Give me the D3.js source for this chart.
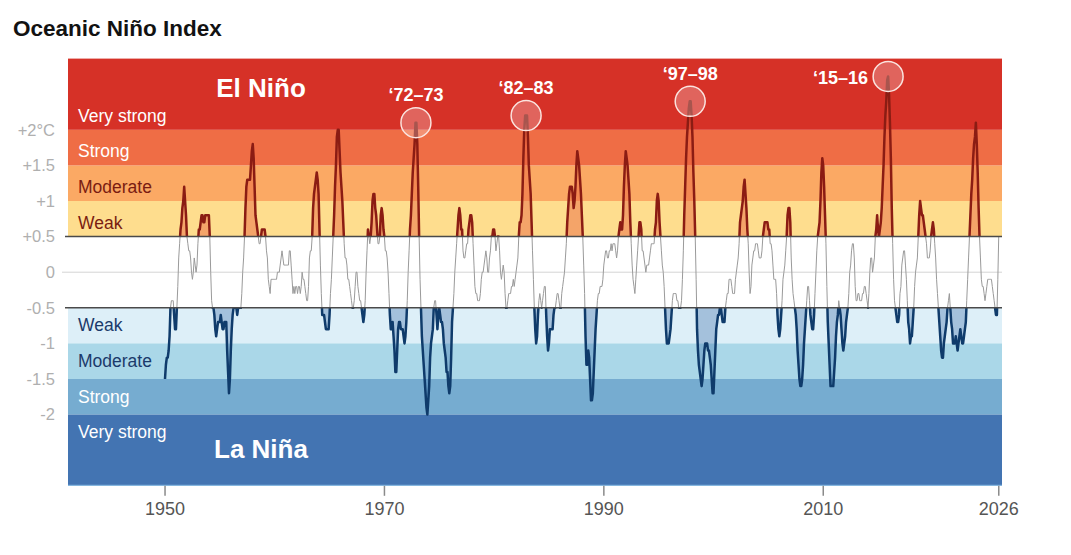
<!DOCTYPE html>
<html>
  <head>
    <title>Oceanic Niño Index | D3</title>
    <style>
        body {
            margin: 0;
            background: #fff;
            font-family: "Liberation Sans", Arial, Helvetica, sans-serif;
        }
    </style>
    <script src="https://d3js.org/d3.v7.min.js" charset="utf-8"></script>
  </head>
  <body>
    <script>
    // ONI values, one row per year, 12 overlapping 3-month seasons (DJF ... NDJ)
    var startYear = 1950;
    var oni = [
      -1.5,-1.3,-1.2,-1.2,-1.1,-0.9,-0.5,-0.4,-0.4,-0.4,-0.6,-0.8, // 1950
      -0.8,-0.5,-0.2,0.2,0.4,0.6,0.7,0.9,1.0,1.2,1.0,0.8,
      0.5,0.4,0.3,0.3,0.2,0.0,-0.1,0.0,0.2,0.1,0.0,0.1,
      0.4,0.6,0.6,0.7,0.8,0.8,0.7,0.7,0.8,0.8,0.8,0.8,
      0.8,0.5,0.0,-0.4,-0.5,-0.5,-0.6,-0.8,-0.9,-0.8,-0.7,-0.7,
      -0.7,-0.6,-0.7,-0.8,-0.8,-0.7,-0.7,-0.7,-1.1,-1.4,-1.7,-1.5,
      -1.1,-0.8,-0.6,-0.5,-0.5,-0.5,-0.5,-0.6,-0.5,-0.5,-0.5,-0.5,
      -0.3,0.0,0.2,0.5,0.9,1.2,1.3,1.3,1.3,1.3,1.5,1.7,
      1.8,1.6,1.2,0.8,0.7,0.6,0.5,0.4,0.4,0.5,0.6,0.6,
      0.6,0.6,0.5,0.3,0.2,-0.1,-0.2,-0.3,-0.1,-0.1,-0.1,-0.1,
      -0.1,-0.1,-0.1,0.0,0.0,0.0,0.1,0.2,0.3,0.2,0.1,0.1, // 1960
      0.1,0.1,0.1,0.1,0.3,0.3,0.1,-0.1,-0.3,-0.2,-0.3,-0.2,
      -0.2,-0.3,-0.2,-0.2,-0.3,-0.2,0.0,-0.1,-0.1,-0.2,-0.3,-0.4,
      -0.4,-0.2,0.2,0.3,0.3,0.5,0.9,1.1,1.2,1.3,1.4,1.3,
      1.1,0.6,0.1,-0.3,-0.6,-0.6,-0.6,-0.7,-0.8,-0.8,-0.8,-0.8,
      -0.6,-0.3,-0.1,0.2,0.5,0.8,1.2,1.5,1.9,2.0,2.0,1.7,
      1.4,1.2,1.0,0.7,0.4,0.2,0.2,0.1,-0.1,-0.1,-0.2,-0.3,
      -0.4,-0.5,-0.5,-0.4,-0.2,0.0,0.0,-0.2,-0.3,-0.4,-0.4,-0.5,
      -0.6,-0.7,-0.6,-0.4,0.0,0.3,0.6,0.5,0.4,0.5,0.7,1.0,
      1.1,1.1,0.9,0.8,0.6,0.4,0.4,0.5,0.8,0.9,0.8,0.6,
      0.5,0.3,0.3,0.2,0.0,-0.3,-0.6,-0.8,-0.8,-0.7,-0.9,-1.1, // 1970
      -1.4,-1.4,-1.1,-0.8,-0.7,-0.7,-0.8,-0.8,-0.8,-0.9,-1.0,-0.9,
      -0.7,-0.4,0.0,0.3,0.6,0.8,1.1,1.4,1.6,1.8,2.1,2.1,
      1.8,1.2,0.5,-0.1,-0.5,-0.9,-1.1,-1.3,-1.5,-1.7,-1.9,-2.0,
      -1.8,-1.6,-1.2,-1.0,-0.9,-0.8,-0.5,-0.4,-0.4,-0.6,-0.8,-0.6,
      -0.5,-0.6,-0.7,-0.7,-0.8,-1.0,-1.1,-1.2,-1.4,-1.4,-1.6,-1.7,
      -1.6,-1.2,-0.7,-0.5,-0.3,0.0,0.2,0.4,0.6,0.8,0.9,0.8,
      0.6,0.6,0.3,0.2,0.2,0.3,0.4,0.4,0.6,0.7,0.8,0.8,
      0.7,0.4,0.1,-0.2,-0.3,-0.3,-0.4,-0.4,-0.4,-0.3,-0.1,0.0,
      0.0,0.1,0.2,0.3,0.2,0.0,0.0,0.2,0.3,0.5,0.5,0.6,
      0.6,0.5,0.3,0.4,0.5,0.5,0.3,0.0,-0.1,0.0,0.1,0.0, // 1980
      -0.3,-0.5,-0.5,-0.4,-0.3,-0.3,-0.3,-0.2,-0.2,-0.1,-0.2,-0.1,
      0.0,0.1,0.2,0.5,0.7,0.7,0.8,1.1,1.6,2.0,2.2,2.2,
      2.2,1.9,1.5,1.3,1.1,0.7,0.3,-0.1,-0.5,-0.8,-1.0,-0.9,
      -0.6,-0.4,-0.3,-0.4,-0.5,-0.4,-0.3,-0.2,-0.2,-0.6,-0.9,-1.1,
      -1.0,-0.8,-0.8,-0.8,-0.8,-0.6,-0.5,-0.5,-0.4,-0.3,-0.3,-0.4,
      -0.5,-0.5,-0.3,-0.2,-0.1,0.0,0.2,0.4,0.7,0.9,1.1,1.2,
      1.2,1.2,1.1,0.9,1.0,1.2,1.5,1.7,1.6,1.5,1.3,1.1,
      0.8,0.5,0.1,-0.3,-0.9,-1.3,-1.3,-1.1,-1.2,-1.5,-1.8,-1.8,
      -1.7,-1.4,-1.1,-0.8,-0.6,-0.4,-0.3,-0.3,-0.2,-0.2,-0.2,-0.1,
      0.1,0.2,0.3,0.3,0.2,0.2,0.3,0.3,0.4,0.3,0.4,0.4, // 1990
      0.4,0.3,0.2,0.3,0.5,0.6,0.7,0.6,0.6,0.8,1.2,1.5,
      1.7,1.6,1.5,1.3,1.1,0.7,0.4,0.1,-0.1,-0.2,-0.3,-0.1,
      0.1,0.3,0.5,0.7,0.7,0.6,0.3,0.3,0.2,0.1,0.0,0.1,
      0.1,0.1,0.2,0.3,0.4,0.4,0.4,0.4,0.6,0.7,1.0,1.1,
      1.0,0.7,0.5,0.3,0.1,0.0,-0.2,-0.5,-0.8,-1.0,-1.0,-1.0,
      -0.9,-0.8,-0.6,-0.4,-0.3,-0.3,-0.3,-0.3,-0.4,-0.4,-0.5,-0.5,
      -0.5,-0.4,-0.1,0.3,0.8,1.2,1.6,1.9,2.1,2.3,2.4,2.4,
      2.2,1.9,1.4,1.0,0.5,-0.1,-0.8,-1.1,-1.3,-1.4,-1.5,-1.6,
      -1.5,-1.3,-1.1,-1.0,-1.0,-1.0,-1.1,-1.1,-1.2,-1.3,-1.5,-1.7,
      -1.7,-1.4,-1.1,-0.8,-0.7,-0.6,-0.6,-0.5,-0.5,-0.6,-0.7,-0.7, // 2000
      -0.7,-0.5,-0.4,-0.3,-0.3,-0.1,-0.1,-0.1,-0.2,-0.3,-0.3,-0.3,
      -0.1,0.0,0.1,0.2,0.4,0.7,0.8,0.9,1.0,1.2,1.3,1.1,
      0.9,0.6,0.4,0.0,-0.3,-0.2,0.1,0.2,0.3,0.3,0.4,0.4,
      0.4,0.3,0.2,0.2,0.2,0.3,0.5,0.6,0.7,0.7,0.7,0.7,
      0.6,0.6,0.4,0.4,0.3,0.1,-0.1,-0.1,-0.1,-0.3,-0.6,-0.8,
      -0.9,-0.8,-0.6,-0.4,-0.1,0.0,0.1,0.3,0.5,0.8,0.9,0.9,
      0.7,0.2,-0.1,-0.3,-0.4,-0.5,-0.6,-0.8,-1.1,-1.3,-1.5,-1.6,
      -1.6,-1.5,-1.3,-1.0,-0.8,-0.6,-0.4,-0.2,-0.2,-0.4,-0.6,-0.7,
      -0.8,-0.8,-0.6,-0.3,0.0,0.3,0.5,0.6,0.7,1.0,1.4,1.6,
      1.5,1.2,0.8,0.4,-0.2,-0.7,-1.0,-1.3,-1.6,-1.6,-1.6,-1.6, // 2010
      -1.4,-1.2,-0.9,-0.7,-0.6,-0.4,-0.5,-0.6,-0.8,-1.0,-1.1,-1.0,
      -0.9,-0.7,-0.6,-0.5,-0.3,0.0,0.1,0.3,0.4,0.4,0.2,-0.2,
      -0.4,-0.4,-0.3,-0.3,-0.4,-0.4,-0.4,-0.3,-0.3,-0.2,-0.2,-0.3,
      -0.4,-0.5,-0.3,0.0,0.2,0.2,0.0,0.1,0.2,0.5,0.6,0.8,
      0.6,0.5,0.6,0.7,0.9,1.2,1.5,1.9,2.2,2.4,2.7,2.75,
      2.5,2.1,1.6,0.9,0.4,-0.1,-0.4,-0.5,-0.6,-0.7,-0.7,-0.6,
      -0.3,-0.2,0.1,0.2,0.3,0.3,0.1,-0.1,-0.4,-0.7,-0.8,-1.0,
      -0.9,-0.9,-0.7,-0.5,-0.2,0.0,0.1,0.2,0.5,0.8,1.0,0.9,
      0.8,0.8,0.7,0.6,0.5,0.4,0.2,0.2,0.2,0.3,0.5,0.6,
      0.7,0.6,0.4,0.2,-0.1,-0.3,-0.5,-0.7,-0.9,-1.1,-1.2,-1.2, // 2020
      -1.0,-0.9,-0.8,-0.7,-0.5,-0.4,-0.3,-0.5,-0.7,-0.8,-1.0,-1.0,
      -1.0,-0.9,-1.0,-1.1,-1.0,-0.9,-0.8,-0.9,-1.0,-1.0,-0.9,-0.8,
      -0.7,-0.4,-0.1,0.2,0.5,0.8,1.1,1.3,1.6,1.8,1.9,2.1,
      1.8,1.4,0.9,0.5,0.2,-0.1,-0.2,-0.2,-0.3,-0.4,-0.3,-0.2,
      -0.1,-0.1,-0.1,-0.1,-0.1,-0.2,-0.3,-0.4,-0.5,-0.6,-0.6,-0.1,
      0.5 // 2026
    ];

    // intensity bands: lower/upper edge, name, fill, label colour
    var ninoEdges = [[0.5, 1], [1, 1.5], [1.5, 2], [2, 3]];
    var ninaEdges = [[-1, -0.5], [-1.5, -1], [-2, -1.5], [-3, -2]];
    var bandNames = ["Weak", "Moderate", "Strong", "Very strong"];
    var ninoFills = ["#fedd8e", "#fba964", "#ef6d45", "#d63127"];
    var ninaFills = ["#ddeff8", "#aad7e8", "#76acd0", "#4374b2"];
    var ninoText = ["#7a1c12", "#7a1c12", "#ffffff", "#ffffff"];
    var ninaText = ["#1b3a6b", "#1b3a6b", "#ffffff", "#ffffff"];

    var yTicks = [2, 1.5, 1, 0.5, 0, -0.5, -1, -1.5, -2];
    var yTickLabels = ["+2°C", "+1.5", "+1", "+0.5", "0", "-0.5", "-1", "-1.5", "-2"];
    var xTicks = [1950, 1970, 1990, 2010, 2026];

    // labelled strong events: label, search window (years)
    var peakLabels = ["\u201872\u201373", "\u201882\u201383", "\u201897\u201398", "\u201815\u201316"];
    var peakWindows = [[1972, 1974], [1982, 1984], [1997, 1999], [2015, 2017]];

    var width = 1071;
    var height = 555;
    var left = 68, right = 1002;

    var svg = d3.select("body")
        .append("svg")
        .attr("width", width)
        .attr("height", height);

    var x = d3.scaleLinear().domain([1941.2, 2026.34]).range([left, right]);
    var y = d3.scaleLinear().domain([-3, 3]).range([485.8, 58.6]);

    var data = oni.map(function(v, i) {
        return { t: startYear + (i + 0.5) / 12, v: v };
    });
    // shading of la nina starts once the curve has first come up through -0.5
    var firstUp = data.findIndex(function(d) { return d.v >= -0.5; });
    var shadeData = data.slice(firstUp - 1);

    // title
    svg.append("text")
        .attr("x", 13).attr("y", 36)
        .attr("font-size", 22.5).attr("font-weight", "bold")
        .attr("fill", "#121212")
        .text("Oceanic Niño Index");

    // background bands
    var bands = svg.append("g");
    bands.selectAll("rect.nino")
        .data(ninoEdges).enter().append("rect")
        .attr("x", left).attr("width", right - left)
        .attr("y", function(d) { return y(d[1]); })
        .attr("height", function(d) { return y(d[0]) - y(d[1]); })
        .attr("fill", function(d, i) { return ninoFills[i]; });
    bands.selectAll("rect.nina")
        .data(ninaEdges).enter().append("rect")
        .attr("x", left).attr("width", right - left)
        .attr("y", function(d) { return y(d[1]); })
        .attr("height", function(d) { return y(d[0]) - y(d[1]); })
        .attr("fill", function(d, i) { return ninaFills[i]; });
    // thin light edge under the bottom band
    svg.append("line")
        .attr("x1", left).attr("x2", right)
        .attr("y1", y(-3) - 0.5).attr("y2", y(-3) - 0.5)
        .attr("stroke", "#8fc1e6").attr("stroke-width", 1);

    // band names
    svg.selectAll("text.nino")
        .data(ninoEdges).enter().append("text")
        .attr("x", 78)
        .attr("y", function(d) { return y(d[0]) - 8; })
        .attr("font-size", 17.5)
        .attr("fill", function(d, i) { return ninoText[i]; })
        .text(function(d, i) { return bandNames[i]; });
    svg.selectAll("text.nina")
        .data(ninaEdges).enter().append("text")
        .attr("x", 78)
        .attr("y", function(d) { return y(d[1]) + 23.5; })
        .attr("font-size", 17.5)
        .attr("fill", function(d, i) { return ninaText[i]; })
        .text(function(d, i) { return bandNames[i]; });

    svg.append("text")
        .attr("x", 261).attr("y", 97)
        .attr("text-anchor", "middle")
        .attr("font-size", 26).attr("font-weight", "bold")
        .attr("fill", "#fff")
        .text("El Niño");
    svg.append("text")
        .attr("x", 261).attr("y", 458)
        .attr("text-anchor", "middle")
        .attr("font-size", 26).attr("font-weight", "bold")
        .attr("fill", "#fff")
        .text("La Niña");

    // zero line
    svg.append("line")
        .attr("x1", 62).attr("x2", right)
        .attr("y1", y(0)).attr("y2", y(0))
        .attr("stroke", "#d4d4d4").attr("stroke-width", 1);

    // clip regions for el nino / la nina parts of the curve
    var defs = svg.append("defs");
    defs.append("clipPath").attr("id", "above")
        .append("rect")
        .attr("x", left).attr("width", right - left)
        .attr("y", y(3)).attr("height", y(0.5) - y(3));
    defs.append("clipPath").attr("id", "below")
        .append("rect")
        .attr("x", left).attr("width", right - left)
        .attr("y", y(-0.5)).attr("height", y(-3) - y(-0.5));

    var line = d3.line()
        .x(function(d) { return x(d.t); })
        .y(function(d) { return y(d.v); });

    // gray neutral line
    svg.append("path")
        .datum(data)
        .attr("d", line)
        .attr("fill", "none")
        .attr("stroke", "#9a9a9a")
        .attr("stroke-width", 1);

    var areaUp = d3.area()
        .x(function(d) { return x(d.t); })
        .y0(y(0.5))
        .y1(function(d) { return y(d.v); });
    var areaDown = d3.area()
        .x(function(d) { return x(d.t); })
        .y0(y(-0.5))
        .y1(function(d) { return y(d.v); });

    var up = svg.append("g").attr("clip-path", "url(#above)");
    up.append("path").datum(data)
        .attr("d", areaUp)
        .attr("fill", "#e8603c").attr("fill-opacity", 0.45);
    up.append("path").datum(data)
        .attr("d", line)
        .attr("fill", "none")
        .attr("stroke", "#8b1c13").attr("stroke-width", 2.5)
        .attr("stroke-linejoin", "round");

    var down = svg.append("g").attr("clip-path", "url(#below)");
    down.append("path").datum(shadeData)
        .attr("d", areaDown)
        .attr("fill", "#3a6ea8").attr("fill-opacity", 0.35);
    down.append("path").datum(data)
        .attr("d", line)
        .attr("fill", "none")
        .attr("stroke", "#0f3b6b").attr("stroke-width", 2.5)
        .attr("stroke-linejoin", "round");

    // threshold lines at +/-0.5
    svg.selectAll("line.thr")
        .data([0.5, -0.5]).enter().append("line")
        .attr("x1", 65).attr("x2", right)
        .attr("y1", function(d) { return y(d); })
        .attr("y2", function(d) { return y(d); })
        .attr("stroke", "#4a4a4a").attr("stroke-width", 1.5);

    // y labels
    svg.selectAll("text.ytick")
        .data(yTicks).enter().append("text")
        .attr("x", 55)
        .attr("y", function(d) { return y(d); })
        .attr("dy", "0.35em")
        .attr("text-anchor", "end")
        .attr("font-size", 16.5)
        .attr("fill", "#afafaf")
        .text(function(d, i) { return yTickLabels[i]; });

    // x axis
    var xAxis = d3.axisBottom(x)
        .tickValues(xTicks)
        .tickFormat(d3.format("d"))
        .tickSize(10)
        .tickPadding(6);
    var gx = svg.append("g")
        .attr("transform", "translate(0," + y(-3) + ")")
        .call(xAxis);
    gx.select(".domain").remove();
    gx.selectAll(".tick line").attr("stroke", "#8a8a8a").attr("stroke-width", 1.5);
    gx.selectAll(".tick text")
        .attr("font-family", "'Liberation Sans', Arial, sans-serif")
        .attr("font-size", 18)
        .attr("fill", "#555");

    // circled peaks with labels
    peakWindows.forEach(function(w, i) {
        var seg = data.filter(function(d) { return d.t >= w[0] && d.t < w[1]; });
        var maxV = d3.max(seg, function(d) { return d.v; });
        var tops = seg.filter(function(d) { return d.v === maxV; });
        var cx = x(d3.mean(tops, function(d) { return d.t; }));
        var cy = y(maxV);
        svg.append("circle")
            .attr("cx", cx).attr("cy", cy).attr("r", 15)
            .attr("fill", "#ffffff").attr("fill-opacity", 0.25)
            .attr("stroke", "#fbe3de").attr("stroke-width", 1.5);
        var label = svg.append("text")
            .attr("font-size", 18).attr("font-weight", "bold")
            .attr("fill", "#fff")
            .text(peakLabels[i]);
        if (i === 3) {
            label.attr("x", cx - 20).attr("y", cy + 7.5).attr("text-anchor", "end");
        } else {
            label.attr("x", cx).attr("y", cy - 21.5).attr("text-anchor", "middle");
        }
    });
    </script>
  </body>
</html>
